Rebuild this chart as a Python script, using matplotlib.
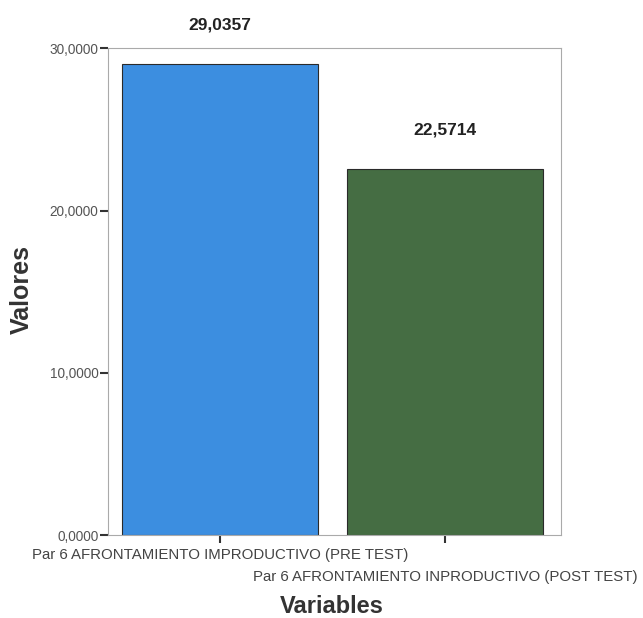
import matplotlib
matplotlib.use("Agg")
import matplotlib.pyplot as plt
from matplotlib.transforms import ScaledTranslation

categories = ["Par 6 AFRONTAMIENTO IMPRODUCTIVO (PRE TEST)",
              "Par 6 AFRONTAMIENTO INPRODUCTIVO (POST TEST)"]
values = [29.0357, 22.5714]
value_labels = ["29,0357", "22,5714"]
yticks = [0, 10, 20, 30]
ytick_labels = ["0,0000", "10,0000", "20,0000", "30,0000"]
colors = ["#3c8ee0", "#456d43"]

plt.rcParams['font.family'] = ['Liberation Sans', 'DejaVu Sans']

fig = plt.figure(figsize=(6.43, 6.18), dpi=100)
ax = fig.add_axes([0.168, 0.134, 0.704, 0.788])

x = list(range(len(categories)))
ax.bar(x, values, width=0.87, color=colors, edgecolor="#2a2a2a", linewidth=0.8)

for xi, v, lab in zip(x, values, value_labels):
    ax.annotate(lab, (xi, v), xytext=(0, 22.5), textcoords="offset points",
                ha="center", va="bottom", fontsize=12.5, fontweight="bold", color="#222222")

ax.set_xlim(-0.497, 1.512)
ax.set_ylim(0, 30)
ax.set_yticks(yticks)
ax.set_yticklabels(ytick_labels, fontsize=9.8, color="#555555")
ax.set_xticks(x)
ax.set_xticklabels(categories, fontsize=10.8, color="#444444")
shift = ScaledTranslation(4 / 100, 0, fig.dpi_scale_trans)
for i, t in enumerate(ax.get_xticklabels()):
    t.set_transform(t.get_transform() + shift)
    if i == 1:
        t.set_y(-0.045)
ax.tick_params(axis="y", direction="out", length=6, width=1.5, color="#333333", pad=1)
ax.tick_params(axis="x", direction="out", length=6, width=1.5, color="#333333", pad=3)

for s in ax.spines.values():
    s.set_color("#aaaaaa")
    s.set_linewidth(0.8)

ax.set_ylabel("Valores", fontsize=18, fontweight="bold", color="#333333", va="center")
ax.yaxis.set_label_coords(-0.19, 0.505)
ax.set_xlabel("Variables", fontsize=17, fontweight="bold", color="#333333", va="center")
ax.xaxis.set_label_coords(0.494, -0.146)

fig.savefig("out.png", dpi=100)
